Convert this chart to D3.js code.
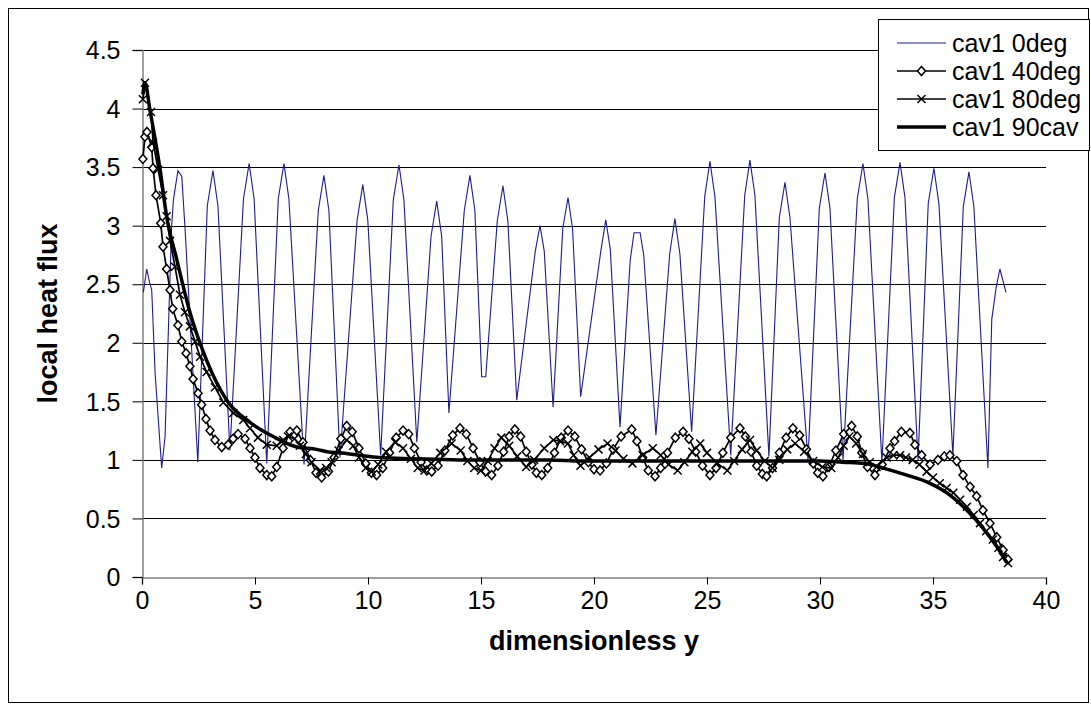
<!DOCTYPE html>
<html>
<head>
<meta charset="utf-8">
<script src="https://cdnjs.cloudflare.com/ajax/libs/d3/7.8.5/d3.min.js"></script>
<style>
    body { margin: 0; background: #fff; }
    text { font-family: "Liberation Sans", Arial, sans-serif; }
</style>
</head>
<body>
<div id="chart"></div>
<script>
// Series data: [dimensionless y, local heat flux]
var cav0deg = [
    [0.06,2.43],[0.21,2.63],[0.33,2.52],[0.43,2.45],[0.58,1.74],[0.87,0.93],[1.02,1.20],[1.31,2.99],[1.39,3.22],[1.59,3.47],[1.76,3.42],[1.9,2.99],[2.47,0.98],
    [2.89,3.17],[3.14,3.47],[3.36,3.17],[3.89,1.08],
    [4.49,3.23],[4.74,3.53],[4.96,3.23],[5.52,0.97],
    [6.03,3.23],[6.28,3.53],[6.5,3.23],[7.17,0.96],
    [7.8,3.13],[8.05,3.43],[8.27,3.13],[8.76,1.02],
    [9.52,3.05],[9.77,3.35],[9.99,3.05],[10.56,1.04],
    [11.12,3.22],[11.37,3.52],[11.59,3.22],[12.16,1.15],
    [12.79,2.91],[13.04,3.21],[13.26,2.91],[13.58,1.40],
    [14.26,3.13],[14.51,3.43],[14.73,3.13],[15.03,1.71],[15.21,1.71],
    [15.72,3.04],[15.97,3.34],[16.19,3.04],[16.58,1.51],
    [17.4,2.78],[17.61,3.0],[17.8,2.78],[18.19,1.45],
    [18.62,2.98],[18.85,3.24],[19.05,2.98],[19.41,1.54],
    [20.3,2.78],[20.52,3.05],[20.72,2.80],[21.15,1.28],
    [21.6,2.70],[21.77,2.94],[22.04,2.94],[22.2,2.75],[22.74,1.21],
    [23.35,2.76],[23.58,3.06],[23.8,2.76],[24.32,1.24],
    [24.9,3.25],[25.13,3.55],[25.35,3.25],[26.05,1.04],
    [26.67,3.26],[26.9,3.56],[27.12,3.26],[27.74,1.03],
    [28.2,3.07],[28.45,3.37],[28.67,3.07],[29.47,1.0],
    [29.97,3.15],[30.22,3.45],[30.44,3.15],[31.02,1.0],
    [31.65,3.23],[31.9,3.53],[32.12,3.23],[32.74,0.98],
    [33.29,3.24],[33.54,3.54],[33.76,3.24],[34.34,1.0],
    [34.79,3.19],[35.04,3.49],[35.26,3.19],[35.88,1.04],
    [36.34,3.16],[36.59,3.46],[36.81,3.16],[37.43,0.93],
    [37.6,2.2],[37.8,2.48],[37.96,2.63],[38.23,2.43]
];

var cav40deg = [
    [0.04,3.57],[0.13,3.76],[0.22,3.80],[0.43,3.67],[0.49,3.49],[0.62,3.26],[0.83,3.02],[0.93,2.82],[1.09,2.63],[1.24,2.45],
    [1.36,2.29],[1.59,2.15],[1.76,2.01],[1.95,1.91],[2.12,1.80],[2.26,1.69],[2.48,1.57],[2.64,1.47],[2.83,1.35],[3.01,1.25],
    [3.23,1.17],[3.53,1.11],[3.81,1.13],[4.03,1.18],[4.25,1.22],[4.56,1.18],[4.78,1.10],[5.0,1.02],[5.22,0.93],[5.52,0.87],
    [5.74,0.86],[5.96,0.94],[6.24,1.10],[6.55,1.24],[6.85,1.25],[7.12,1.15],
    [7.45,1.00],[7.7,0.89],[7.95,0.85],[8.25,0.90],[8.5,1.02],[8.8,1.18],[9.06,1.29],[9.3,1.24],[9.6,1.10],[9.9,0.97],
    [10.15,0.89],[10.38,0.87],[10.65,0.93],[10.95,1.06],[11.25,1.19],[11.55,1.25],[11.8,1.22],[12.05,1.10],[12.35,0.98],[12.6,0.91],
    [12.82,0.90],[13.1,0.95],[13.4,1.08],[13.75,1.21],[14.07,1.27],[14.35,1.22],[14.65,1.10],[14.95,0.98],[15.2,0.90],[15.47,0.87],
    [15.75,0.95],[16.0,1.07],[16.25,1.20],[16.5,1.26],[16.75,1.20],[17.0,1.07],[17.25,0.96],[17.45,0.89],[17.69,0.87],[17.95,0.93],
    [18.25,1.06],[18.55,1.19],[18.85,1.25],[19.15,1.20],[19.45,1.09],[19.75,0.98],[20.0,0.92],[20.27,0.91],[20.55,0.97],[20.85,1.09],
    [21.2,1.20],[21.67,1.26],[21.9,1.16],[22.15,1.02],[22.4,0.91],[22.7,0.86],[22.95,0.93],[23.25,1.06],[23.6,1.19],[23.94,1.24],
    [24.2,1.18],[24.5,1.07],[24.8,0.95],[25.13,0.87],[25.4,0.93],[25.7,1.06],[26.05,1.19],[26.46,1.27],[26.7,1.20],[26.95,1.07],
    [27.2,0.95],[27.45,0.88],[27.64,0.86],[27.9,0.93],[28.2,1.06],[28.5,1.19],[28.8,1.27],[29.1,1.21],[29.4,1.09],[29.7,0.97],
    [29.9,0.89],[30.13,0.86],[30.4,0.94],[30.7,1.08],[31.05,1.22],[31.4,1.29],[31.65,1.20],[31.85,1.06],[32.1,0.94],[32.43,0.87],
    [32.75,0.96],[33.1,1.10],[33.3,1.16],[33.6,1.24],[33.98,1.23],[34.2,1.13],[34.5,1.04],[34.87,0.96],[35.22,1.00],[35.5,1.03],
    [35.75,1.04],[36.05,0.99],[36.33,0.87],[36.64,0.77],[36.93,0.69],[37.21,0.57],[37.52,0.46],[37.82,0.34],[38.1,0.23],[38.32,0.15]
];

var cav80deg = [
    [0.04,4.08],[0.13,4.22],[0.4,3.97],[0.49,3.71],[0.71,3.48],[0.93,3.26],[1.09,3.08],[1.24,2.87],[1.46,2.65],[1.68,2.41],
    [1.9,2.26],[2.12,2.14],[2.35,2.01],[2.57,1.88],[2.86,1.75],[3.23,1.62],[3.6,1.49],[4.04,1.40],[4.48,1.34],[4.78,1.27],
    [5.13,1.19],[5.52,1.13],[5.96,1.12],[6.25,1.17],[6.46,1.20],[6.75,1.18],[6.99,1.12],[7.25,1.05],[7.5,0.98],[7.88,0.91],
    [8.15,0.93],[8.39,0.98],[8.7,1.08],[9.06,1.17],[9.35,1.12],[9.6,1.02],[9.9,0.93],[10.16,0.90],[10.45,0.96],[10.8,1.07],
    [11.2,1.15],[11.55,1.10],[11.9,1.01],[12.2,0.93],[12.5,0.91],[12.8,0.97],[13.2,1.06],[13.7,1.14],[14.1,1.08],[14.4,0.99],
    [14.7,0.93],[15.0,0.91],[15.3,0.99],[15.6,1.10],[15.9,1.19],[16.25,1.12],[16.6,1.03],[17.0,0.94],[17.35,1.00],[17.8,1.10],
    [18.2,1.17],[18.5,1.16],[18.85,1.14],[19.1,1.04],[19.4,0.95],[19.8,1.02],[20.2,1.09],[20.6,1.14],[20.95,1.08],[21.3,1.01],
    [21.7,0.97],[22.15,1.04],[22.6,1.10],[22.95,1.04],[23.3,0.96],[23.7,0.91],[24.0,0.98],[24.35,1.07],[24.7,1.14],[25.0,1.06],
    [25.45,0.97],[25.9,0.91],[26.2,0.99],[26.55,1.09],[26.9,1.17],[27.2,1.08],[27.55,0.99],[27.9,0.93],[28.2,1.00],[28.55,1.09],
    [28.9,1.14],[29.3,1.07],[29.7,0.99],[30.1,0.94],[30.5,0.93],[30.8,1.02],[31.05,1.12],[31.3,1.20],[31.6,1.14],[31.9,1.05],
    [32.2,0.98],[32.5,0.94],[32.95,1.02],[33.25,1.04],[33.54,1.04],[33.8,1.02],[34.1,1.00],[34.4,0.96],[34.72,0.90],[35.0,0.85],
    [35.3,0.80],[35.6,0.76],[35.9,0.72],[36.2,0.66],[36.5,0.60],[36.8,0.53],[37.08,0.46],[37.35,0.39],[37.65,0.32],[37.9,0.25],
    [38.1,0.17],[38.32,0.12]
];

var cav90cav = [
    [0.04,4.12],[0.13,4.22],[0.35,3.99],[0.8,3.48],[1.09,3.08],[1.54,2.71],[2.12,2.26],[2.86,1.85],[3.75,1.51],[4.78,1.32],
    [5.8,1.20],[6.85,1.11],[7.73,1.09],[8.2,1.07],[8.76,1.06],[9.6,1.04],[10.5,1.02],[12,1.01],[14,1.00],[16,1.00],
    [18,1.00],[19.5,0.99],[22,0.99],[25,0.99],[28,0.99],[30,0.99],[31,0.98],[32,0.97],[32.8,0.93],[33.84,0.87],
    [34.87,0.80],[35.75,0.70],[36.5,0.57],[37.2,0.42],[37.82,0.26],[38.27,0.12]
];

var seriesNames = ['cav1 0deg', 'cav1 40deg', 'cav1 80deg', 'cav1 90cav'];
var xTicks = [0, 5, 10, 15, 20, 25, 30, 35, 40];
var yTicks = [0, 0.5, 1, 1.5, 2, 2.5, 3, 3.5, 4, 4.5];

// Setup SVG
var svgWidth = 1091;
var svgHeight = 710;
var plot = { left: 142, right: 1046, top: 50, bottom: 577 };

var svg = d3.select('#chart')
    .append('svg')
    .attr('width', svgWidth)
    .attr('height', svgHeight);

svg.append('rect')
    .attr('width', svgWidth)
    .attr('height', svgHeight)
    .attr('fill', '#fff');

// outer chart frame
svg.append('rect')
    .attr('x', 8.5)
    .attr('y', 8.5)
    .attr('width', 1080)
    .attr('height', 694)
    .attr('fill', 'none')
    .attr('stroke', '#000')
    .attr('stroke-width', 1);

var xScale = d3.scaleLinear().domain([0, 40]).range([plot.left, plot.right]);
var yScale = d3.scaleLinear().domain([0, 4.5]).range([plot.bottom, plot.top]);

// Gridlines
svg.append('g')
    .selectAll('line')
    .data(yTicks.filter(d => d > 0))
    .enter()
    .append('line')
    .attr('x1', plot.left)
    .attr('x2', plot.right)
    .attr('y1', d => Math.round(yScale(d)) + 0.5)
    .attr('y2', d => Math.round(yScale(d)) + 0.5)
    .attr('stroke', '#000')
    .attr('stroke-width', 1);

// Axes
var bottomAxis = d3.axisBottom(xScale)
    .tickValues(xTicks)
    .tickSize(7)
    .tickPadding(6)
    .tickFormat(d3.format('d'));
var leftAxis = d3.axisLeft(yScale)
    .tickValues(yTicks)
    .tickSize(10)
    .tickPadding(12)
    .tickFormat(d => String(d));

var xAxis = svg.append('g')
    .attr('transform', `translate(0, ${plot.bottom + 0.5})`)
    .call(bottomAxis);
var yAxis = svg.append('g')
    .attr('transform', `translate(${plot.left + 0.5}, 0)`)
    .call(leftAxis);

[xAxis, yAxis].forEach(function(axis) {
    axis.select('.domain').attr('stroke', '#808080').attr('stroke-width', 1.5);
    axis.selectAll('.tick line').attr('stroke', '#000');
    axis.selectAll('text')
        .attr('fill', '#000')
        .style('font-size', '25px')
        .style('font-family', '"Liberation Sans", Arial, sans-serif');
});
yAxis.selectAll('text').attr('dy', '0.35em');
xAxis.selectAll('text').attr('dy', '0.75em');

// Axis titles
svg.append('text')
    .attr('x', (plot.left + plot.right) / 2)
    .attr('y', 650)
    .attr('text-anchor', 'middle')
    .style('font-size', '27px')
    .style('font-weight', 'bold')
    .text('dimensionless y');

svg.append('text')
    .attr('transform', `translate(57, ${(plot.top + plot.bottom) / 2}) rotate(-90)`)
    .attr('text-anchor', 'middle')
    .style('font-size', '27px')
    .style('font-weight', 'bold')
    .text('local heat flux');

var line = d3.line()
    .x(d => xScale(d[0]))
    .y(d => yScale(d[1]));

var diamond = 'M0,-4.5L4,0L0,4.5L-4,0Z';
var cross = 'M-4,-4L4,4M-4,4L4,-4';

// 0deg series
svg.append('path')
    .datum(cav0deg)
    .attr('d', line)
    .attr('fill', 'none')
    .attr('stroke', '#1c1c8e')
    .attr('stroke-width', 1.1);

// 40deg series with diamonds
svg.append('path')
    .datum(cav40deg)
    .attr('d', line)
    .attr('fill', 'none')
    .attr('stroke', '#000')
    .attr('stroke-width', 1.7);
svg.append('g').selectAll('path')
    .data(cav40deg)
    .enter()
    .append('path')
    .attr('transform', d => `translate(${xScale(d[0])}, ${yScale(d[1])})`)
    .attr('d', diamond)
    .attr('fill', '#fff')
    .attr('stroke', '#000')
    .attr('stroke-width', 1.5);

// 80deg series with crosses
svg.append('path')
    .datum(cav80deg)
    .attr('d', line)
    .attr('fill', 'none')
    .attr('stroke', '#000')
    .attr('stroke-width', 1.7);
svg.append('g').selectAll('path')
    .data(cav80deg)
    .enter()
    .append('path')
    .attr('transform', d => `translate(${xScale(d[0])}, ${yScale(d[1])})`)
    .attr('d', cross)
    .attr('fill', 'none')
    .attr('stroke', '#000')
    .attr('stroke-width', 1.5);

// 90cav series, thick
svg.append('path')
    .datum(cav90cav)
    .attr('d', d3.line().curve(d3.curveMonotoneX).x(d => xScale(d[0])).y(d => yScale(d[1])))
    .attr('fill', 'none')
    .attr('stroke', '#000')
    .attr('stroke-width', 3.5);

// Legend
var legend = svg.append('g');
legend.append('rect')
    .attr('x', 878.5)
    .attr('y', 19.5)
    .attr('width', 211)
    .attr('height', 131)
    .attr('fill', '#fff')
    .attr('stroke', '#000');

var legendStyles = [
    { color: '#1c1c8e', width: 1.1, marker: null },
    { color: '#000', width: 1.7, marker: diamond },
    { color: '#000', width: 1.7, marker: cross },
    { color: '#000', width: 3.5, marker: null }
];

seriesNames.forEach(function(name, i) {
    var rowY = 43 + i * 28;
    legend.append('line')
        .attr('x1', 897)
        .attr('x2', 946)
        .attr('y1', rowY)
        .attr('y2', rowY)
        .attr('stroke', legendStyles[i].color)
        .attr('stroke-width', legendStyles[i].width);
    if (legendStyles[i].marker) {
        legend.append('path')
            .attr('transform', `translate(921.5, ${rowY})`)
            .attr('d', legendStyles[i].marker)
            .attr('fill', i === 1 ? '#fff' : 'none')
            .attr('stroke', '#000')
            .attr('stroke-width', 1.5);
    }
    legend.append('text')
        .attr('x', 952)
        .attr('y', rowY)
        .attr('dy', '0.35em')
        .style('font-size', '25px')
        .text(name);
});
</script>
</body>
</html>
